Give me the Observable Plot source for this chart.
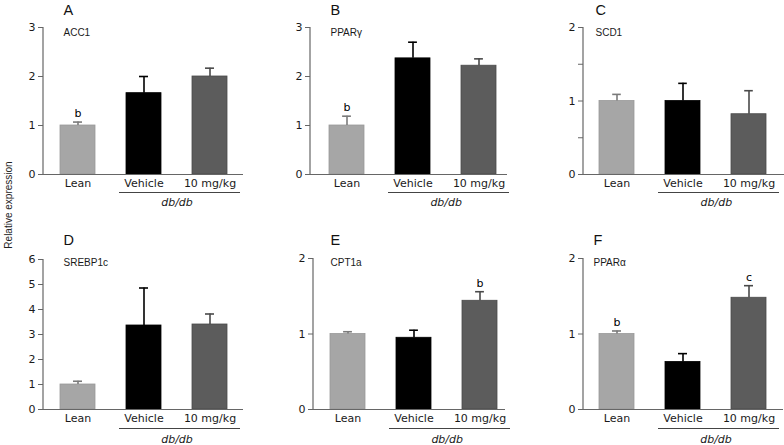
<!DOCTYPE html>
<html>
<head>
<meta charset="utf-8">
<script src="https://cdn.jsdelivr.net/npm/d3@7"></script>
<script src="https://cdn.jsdelivr.net/npm/@observablehq/plot@0.6"></script>
<style>
  html, body { margin: 0; padding: 0; background: #fff; }
  #fig { position: relative; width: 784px; height: 445px; background: #fff; overflow: hidden; }
  #fig > svg { position: absolute; }
  #ylab { position: absolute; left: 8px; top: 205px; transform: translate(-50%, -50%) rotate(-90deg);
          font-family: "Liberation Sans", Arial, sans-serif; font-size: 10px; color: #222; white-space: nowrap; }
</style>
</head>
<body>
<div id="fig"><div id="ylab">Relative expression</div></div>
<script>
// ---- data ----
const groups = ["Lean", "Vehicle", "10 mg/kg"];
const panelLetters = ["A", "B", "C", "D", "E", "F"];
const genes = ["ACC1", "PPARγ", "SCD1", "SREBP1c", "CPT1a", "PPARα"];
const dbGroup = ["Vehicle", "10 mg/kg"];
const dbLabel = "db/db";

const acc1Mean = [1.0, 1.66, 2.0];
const acc1Err = [0.07, 0.34, 0.17];
const acc1Sig = ["b", "", ""];

const ppargMean = [1.0, 2.37, 2.22];
const ppargErr = [0.19, 0.33, 0.14];
const ppargSig = ["b", "", ""];

const scd1Mean = [1.0, 1.0, 0.82];
const scd1Err = [0.09, 0.24, 0.32];
const scd1Sig = ["", "", ""];

const srebpMean = [1.0, 3.36, 3.4];
const srebpErr = [0.13, 1.5, 0.42];
const srebpSig = ["", "", ""];

const cpt1aMean = [1.0, 0.95, 1.44];
const cpt1aErr = [0.03, 0.10, 0.12];
const cpt1aSig = ["", "", "b"];

const pparaMean = [1.0, 0.63, 1.48];
const pparaErr = [0.04, 0.11, 0.16];
const pparaSig = ["b", "", "c"];

const yMaxes = [3, 3, 2, 6, 2, 2];
const yTicks = [[0, 1, 2, 3], [0, 1, 2, 3], [0, 0.5, 1, 1.5, 2], [0, 1, 2, 3, 4, 5, 6], [0, 1, 2], [0, 1, 2]];

const means = [acc1Mean, ppargMean, scd1Mean, srebpMean, cpt1aMean, pparaMean];
const errs = [acc1Err, ppargErr, scd1Err, srebpErr, cpt1aErr, pparaErr];
const sigs = [acc1Sig, ppargSig, scd1Sig, srebpSig, cpt1aSig, pparaSig];

// ---- styling / layout ----
const barColors = ["#a6a6a6", "#000000", "#5c5c5c"];
const barStrokes = ["#999999", "#000000", "#4a4a4a"];
const errColors = ["#7a7a7a", "#000000", "#4a4a4a"];
const axisColor = "#666";

const layout = [
  {left: 0,   top: 0,   width: 262, height: 222, mL: 43, mR: 19, mT: 27, mB: 48, range: [60, 227], lx: 20, letterDy: -13, geneDy: 8, ruleDy: 18, dbDy: 28},
  {left: 262, top: 0,   width: 262, height: 222, mL: 48, mR: 17, mT: 27, mB: 48, range: [66, 234], lx: 20, letterDy: -13, geneDy: 8, ruleDy: 18, dbDy: 28},
  {left: 524, top: 0,   width: 260, height: 222, mL: 59, mR: 0,  mT: 27, mB: 48, range: [74, 243], lx: 12, letterDy: -13, geneDy: 8, ruleDy: 18, dbDy: 28},
  {left: 0,   top: 222, width: 262, height: 223, mL: 43, mR: 19, mT: 37, mB: 36, range: [60, 227], lx: 20, letterDy: -15, geneDy: 6, ruleDy: 19, dbDy: 30},
  {left: 262, top: 222, width: 262, height: 223, mL: 51, mR: 19, mT: 36, mB: 36, range: [67, 235], lx: 17, letterDy: -14, geneDy: 7, ruleDy: 19, dbDy: 30},
  {left: 524, top: 222, width: 260, height: 223, mL: 59, mR: 1,  mT: 36, mB: 36, range: [75, 242], lx: 10, letterDy: -14, geneDy: 7, ruleDy: 19, dbDy: 30}
];

const fig = document.getElementById("fig");

panelLetters.forEach((letter, p) => {
  const L = layout[p];
  const rows = groups.map((g, i) => ({group: g, mean: means[p][i], err: errs[p][i], sig: sigs[p][i], idx: i}));
  const sigRows = rows.filter(d => d.sig);
  const bw = (L.range[1] - L.range[0]) / (3 - 0.47) * (1 - 0.47);
  const step = (L.range[1] - L.range[0]) / (3 - 0.47);
  const capInset = (bw - 9) / 2;

  const yAxisLine = (index, scales, values, dim) => {
    const line = document.createElementNS("http://www.w3.org/2000/svg", "line");
    line.setAttribute("x1", dim.marginLeft);
    line.setAttribute("x2", dim.marginLeft);
    line.setAttribute("y1", dim.marginTop);
    line.setAttribute("y2", dim.height - dim.marginBottom);
    line.setAttribute("stroke", axisColor);
    line.setAttribute("stroke-width", 1.2);
    return line;
  };

  const chart = Plot.plot({
    width: L.width,
    height: L.height,
    marginLeft: L.mL,
    marginRight: L.mR,
    marginTop: L.mT,
    marginBottom: L.mB,
    style: {fontFamily: "'DejaVu Sans', sans-serif", fontSize: "11px", background: "transparent", overflow: "visible", color: "#1a1a1a"},
    x: {domain: groups, range: L.range, paddingInner: 0.47, paddingOuter: 0},
    y: {domain: [0, yMaxes[p]], range: [L.height - L.mB, L.mT]},
    marks: [
      Plot.barY(rows, {x: "group", y: "mean", fill: d => barColors[d.idx], stroke: d => barStrokes[d.idx], strokeWidth: 0.8}),
      Plot.ruleX(rows, {x: "group", y1: "mean", y2: d => d.mean + d.err, stroke: d => errColors[d.idx], strokeWidth: 1.6}),
      Plot.tickY(rows, {x: "group", y: d => d.mean + d.err, stroke: d => errColors[d.idx], strokeWidth: 1.6, insetLeft: capInset, insetRight: capInset}),
      Plot.text(sigRows, {x: "group", y: d => d.mean + d.err, text: "sig", dy: -5, lineAnchor: "bottom", fill: "black", fontSize: 11}),
      Plot.ruleY([0], {stroke: axisColor, strokeWidth: 1.2}),
      yAxisLine,
      Plot.axisY({ticks: yTicks[p], tickSize: 5, tickPadding: 3, stroke: axisColor, tickFormat: d => Number.isInteger(d) ? String(d) : "", label: null}),
      Plot.axisX({tickSize: 0, tickPadding: 5, label: null}),
      Plot.ruleY([{y: 0, x1: dbGroup[0], x2: dbGroup[1]}], {y: "y", x1: "x1", x2: "x2", dy: L.ruleDy, stroke: "#444", strokeWidth: 1, insetLeft: -7, insetRight: -13}),
      Plot.text([{y: 0, x: dbGroup[0], t: dbLabel}], {x: "x", y: "y", text: "t", dx: step / 2, dy: L.dbDy, fontStyle: "italic", lineAnchor: "middle", fill: "#1a1a1a"}),
      Plot.text([letter], {frameAnchor: "top-left", textAnchor: "start", lineAnchor: "bottom", dx: L.lx, dy: L.letterDy, fontSize: 14.5, fontFamily: "'Liberation Sans', Arial, sans-serif", fill: "#111"}),
      Plot.text([genes[p]], {frameAnchor: "top-left", textAnchor: "start", lineAnchor: "bottom", dx: L.lx, dy: L.geneDy, fontSize: 10, fontFamily: "'Liberation Sans', Arial, sans-serif", fill: "#1a1a1a"})
    ]
  });
  chart.style.left = L.left + "px";
  chart.style.top = L.top + "px";
  fig.appendChild(chart);
});
</script>
</body>
</html>
